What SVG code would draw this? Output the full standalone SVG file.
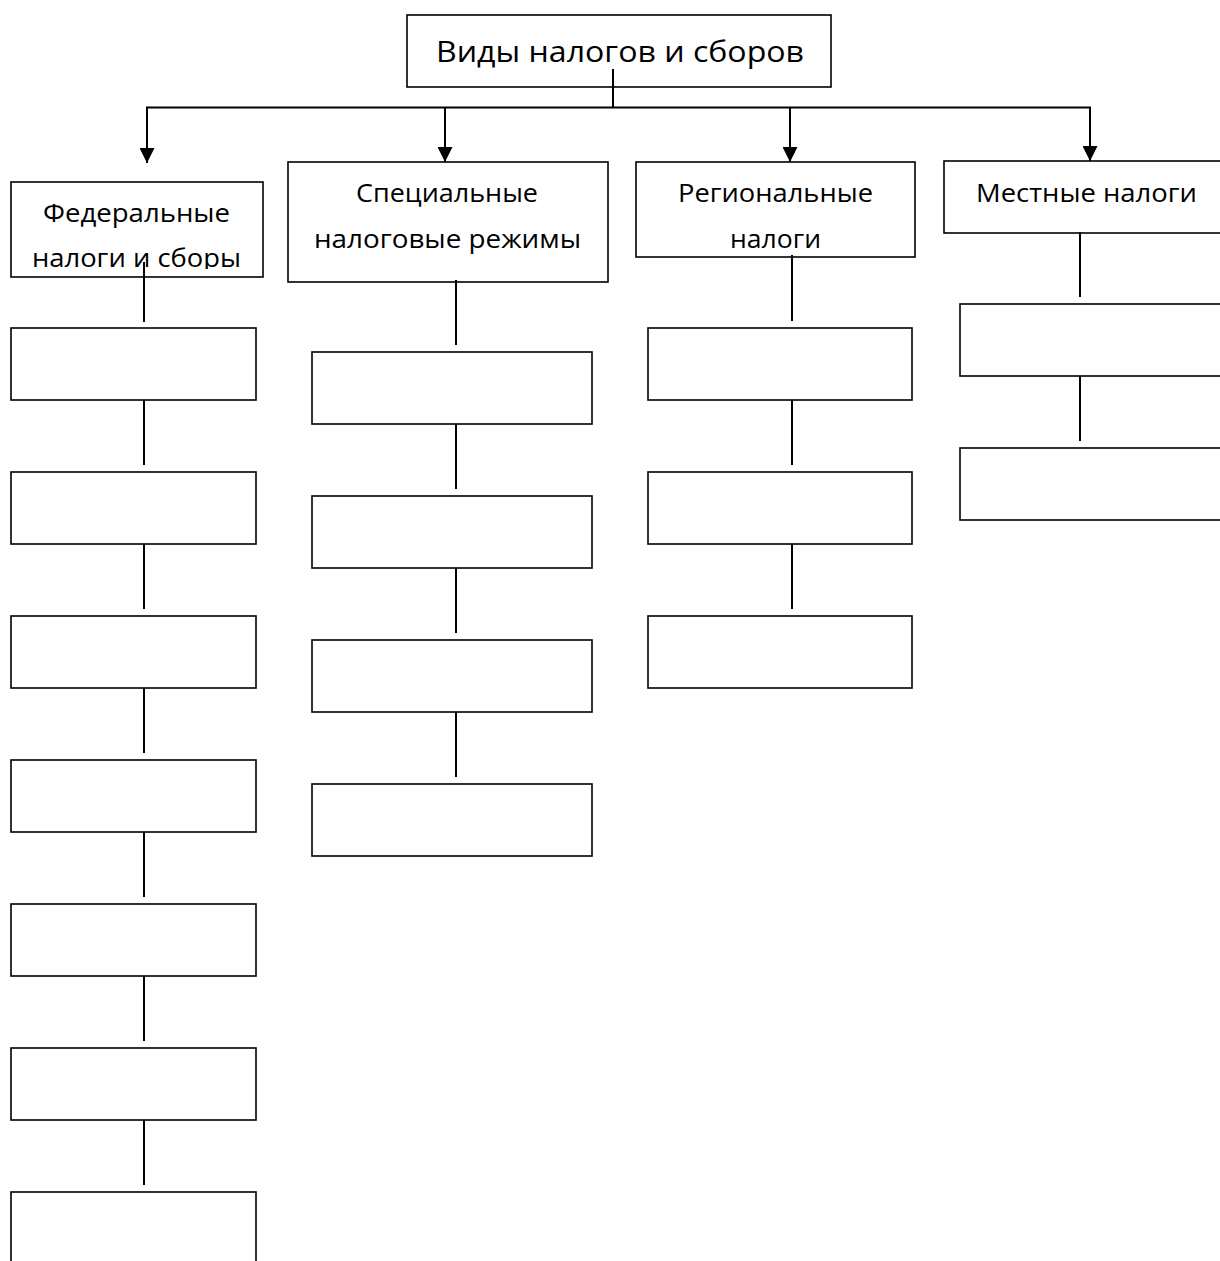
<svg xmlns="http://www.w3.org/2000/svg" width="1220" height="1261" viewBox="0 0 1220 1261">
<style>
.box{fill:none;stroke:#000;stroke-width:1.6}
.ln{fill:none;stroke:#000;stroke-width:2}
.t{font-family:"Open Sans","Noto Sans","Liberation Sans",sans-serif;fill:#000}
.big{font-size:30px}
.lab{font-size:25px}
</style>
<defs>
<marker id="arr" markerUnits="userSpaceOnUse" markerWidth="15" markerHeight="15" viewBox="0 0 15 15" refX="15" refY="7.5" orient="auto">
<path d="M0,0 L15,7.5 L0,15 z" fill="#000"/>
</marker>
<clipPath id="fedclip"><rect x="11" y="182" width="252" height="87"/></clipPath>
</defs>
<rect x="0" y="0" width="1220" height="1261" fill="#fff"/>

<g id="root">
<rect class="box" x="407" y="15" width="424" height="72"/>
<text class="t big" x="436" y="62" textLength="368" lengthAdjust="spacingAndGlyphs">Виды налогов и сборов</text>
</g>

<g id="federal">
<rect class="box" x="11" y="182" width="252" height="95"/>
<text class="t lab" x="43" y="222" textLength="187" lengthAdjust="spacingAndGlyphs">Федеральные</text>
<g clip-path="url(#fedclip)"><text class="t lab" x="32" y="267" textLength="209" lengthAdjust="spacingAndGlyphs">налоги и сборы</text></g>
</g>
<g id="special">
<rect class="box" x="288" y="162" width="320" height="120"/>
<text class="t lab" x="356" y="202" textLength="182" lengthAdjust="spacingAndGlyphs">Специальные</text>
<text class="t lab" x="314" y="248" textLength="267" lengthAdjust="spacingAndGlyphs">налоговые режимы</text>
</g>
<g id="regional">
<rect class="box" x="636" y="162" width="279" height="95"/>
<text class="t lab" x="678" y="202" textLength="195" lengthAdjust="spacingAndGlyphs">Региональные</text>
<text class="t lab" x="730" y="248" textLength="91" lengthAdjust="spacingAndGlyphs">налоги</text>
</g>
<g id="local">
<rect class="box" x="944" y="161" width="290" height="72"/>
<text class="t lab" x="976" y="202" textLength="221" lengthAdjust="spacingAndGlyphs">Местные налоги</text>
</g>

<g id="fed-items">
<rect id="fed1" class="box" x="11" y="328" width="245" height="72"/>
<rect id="fed2" class="box" x="11" y="472" width="245" height="72"/>
<rect id="fed3" class="box" x="11" y="616" width="245" height="72"/>
<rect id="fed4" class="box" x="11" y="760" width="245" height="72"/>
<rect id="fed5" class="box" x="11" y="904" width="245" height="72"/>
<rect id="fed6" class="box" x="11" y="1048" width="245" height="72"/>
<rect id="fed7" class="box" x="11" y="1192" width="245" height="90"/>
</g>
<g id="spec-items">
<rect id="spec1" class="box" x="312" y="352" width="280" height="72"/>
<rect id="spec2" class="box" x="312" y="496" width="280" height="72"/>
<rect id="spec3" class="box" x="312" y="640" width="280" height="72"/>
<rect id="spec4" class="box" x="312" y="784" width="280" height="72"/>
</g>
<g id="reg-items">
<rect id="reg1" class="box" x="648" y="328" width="264" height="72"/>
<rect id="reg2" class="box" x="648" y="472" width="264" height="72"/>
<rect id="reg3" class="box" x="648" y="616" width="264" height="72"/>
</g>
<g id="loc-items">
<rect id="loc1" class="box" x="960" y="304" width="280" height="72"/>
<rect id="loc2" class="box" x="960" y="448" width="280" height="72"/>
</g>

<g id="connectors">
<line class="ln" x1="613" y1="69" x2="613" y2="107.5"/>
<line class="ln" x1="146" y1="107.5" x2="1091" y2="107.5"/>
<line class="ln" x1="147" y1="107" x2="147" y2="163" marker-end="url(#arr)"/>
<line class="ln" x1="445" y1="107" x2="445" y2="162" marker-end="url(#arr)"/>
<line class="ln" x1="790" y1="107" x2="790" y2="162" marker-end="url(#arr)"/>
<line class="ln" x1="1090" y1="107" x2="1090" y2="161" marker-end="url(#arr)"/>

<line class="ln" x1="144" y1="262" x2="144" y2="322"/>
<line class="ln" x1="144" y1="400" x2="144" y2="465"/>
<line class="ln" x1="144" y1="544" x2="144" y2="609"/>
<line class="ln" x1="144" y1="688" x2="144" y2="753"/>
<line class="ln" x1="144" y1="832" x2="144" y2="897"/>
<line class="ln" x1="144" y1="976" x2="144" y2="1041"/>
<line class="ln" x1="144" y1="1120" x2="144" y2="1185"/>

<line class="ln" x1="456" y1="280" x2="456" y2="345"/>
<line class="ln" x1="456" y1="424" x2="456" y2="489"/>
<line class="ln" x1="456" y1="568" x2="456" y2="633"/>
<line class="ln" x1="456" y1="712" x2="456" y2="777"/>

<line class="ln" x1="792" y1="255" x2="792" y2="321"/>
<line class="ln" x1="792" y1="400" x2="792" y2="465"/>
<line class="ln" x1="792" y1="544" x2="792" y2="609"/>

<line class="ln" x1="1080" y1="232" x2="1080" y2="297"/>
<line class="ln" x1="1080" y1="376" x2="1080" y2="441"/>
</g>
</svg>
